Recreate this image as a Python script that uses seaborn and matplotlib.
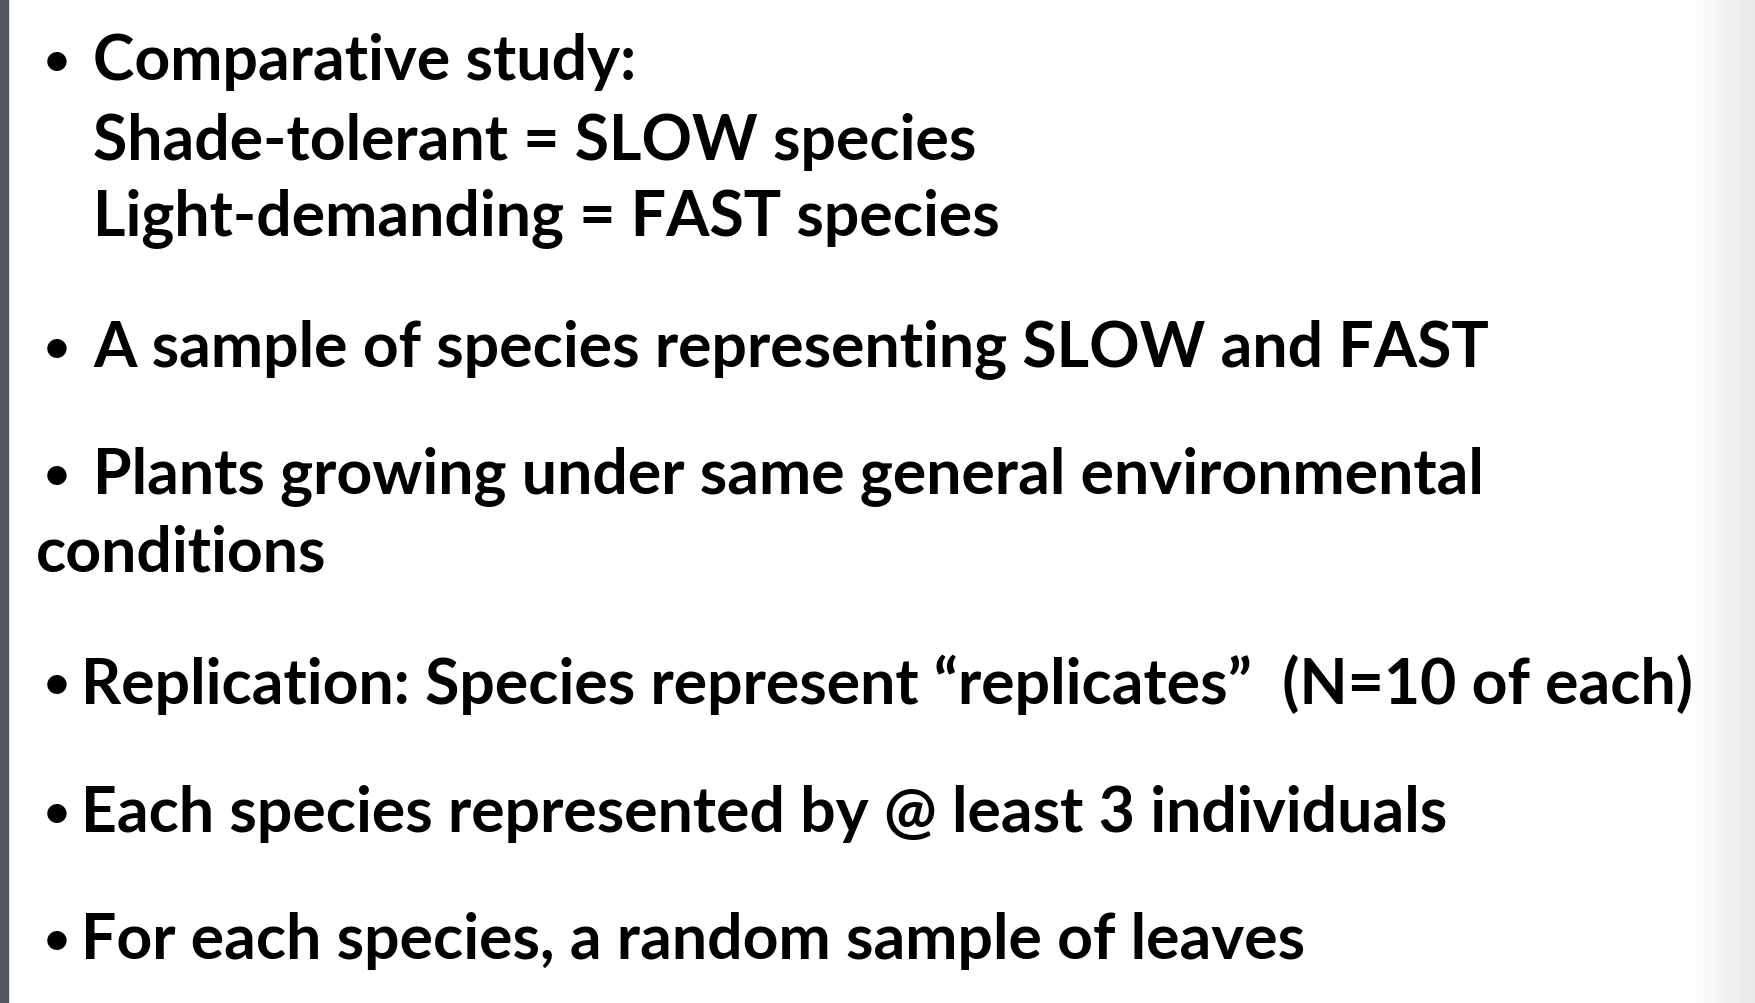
import matplotlib
matplotlib.use("Agg")
import matplotlib.pyplot as plt
import seaborn as sns
import numpy as np
from matplotlib.colors import LinearSegmentedColormap

sns.set_theme(style="white")
plt.rcParams['font.family'] = ['Lato', 'DejaVu Sans']

# slide lines: (bullet?, text)
bullets = [True, False, False, True, True, False, True, True, True]
lines = [
    "Comparative study:",
    "Shade-tolerant = SLOW species",
    "Light-demanding = FAST species",
    "A sample of species representing SLOW and FAST",
    "Plants growing under same general environmental",
    "conditions",
    "Replication: Species represent \u201creplicates\u201d  (N=10 of each)",
    "Each species represented by @ least 3 individuals",
    "For each species, a random sample of leaves",
]
line_y = [62, 142, 218, 349, 476, 554, 685, 814, 941]
text_x = [93, 93, 93, 93, 93, 36, 81, 81, 81]

fig = plt.figure(figsize=(17.56, 10.04), dpi=100)
ax = fig.add_axes([0, 0, 1, 1])
ax.set_xlim(0, 1756)
ax.set_ylim(1004, 0)
ax.axis("off")

# left dark border and right soft shadow
ax.axvspan(0, 8, color="#55575e")
shade = LinearSegmentedColormap.from_list("shade", ["#ffffff", "#e8e8e8"])
grad = np.linspace(0, 1, 200)[None, :]
ax.imshow(grad, extent=[1690, 1756, 1004, 0], cmap=shade, aspect="auto", zorder=0)
ax.set_xlim(0, 1756)
ax.set_ylim(1004, 0)

for b, t, x, y in zip(bullets, lines, text_x, line_y):
    if b:
        ax.text(44, y, "\u2022", fontsize=32, fontweight="bold", va="center", ha="left", color="black")
    ax.text(x, y, t, fontsize=45, fontweight="bold", va="center", ha="left", color="black")

fig.savefig("out.png", dpi=100)
